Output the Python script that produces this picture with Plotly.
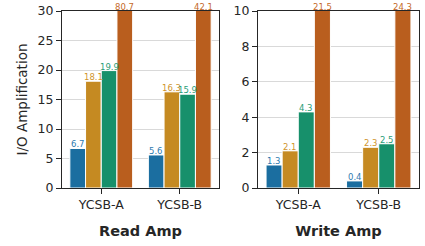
import plotly.graph_objects as go

categories = ["YCSB-A", "YCSB-B"]
read_amp = [[6.7, 5.6], [18.1, 16.3], [19.9, 15.9], [80.7, 42.1]]
write_amp = [[1.3, 0.4], [2.1, 2.3], [4.3, 2.5], [21.5, 24.3]]
series_names = ["S1", "S2", "S3", "S4"]
colors = ["#1b6ea0", "#c58a22", "#17906b", "#b95e1e"]
label_colors = ["#2f7bb0", "#d0952e", "#2a9d78", "#c56a2a"]
read_max, write_max = 30, 10

fig = go.Figure()
FONT = "DejaVu Sans"
ink = "#262626"
n = len(series_names)
w = 0.8 / n
annotations = []
for panel, (data, xa, ya, ymax) in enumerate([(read_amp, "x", "y", read_max), (write_amp, "x2", "y2", write_max)]):
    for i in range(n):
        fig.add_trace(go.Bar(x=categories, y=data[i], name=series_names[i], marker_color=colors[i],
                             marker_line_color="white", marker_line_width=1,
                             xaxis=xa, yaxis=ya, showlegend=False, hoverinfo="skip"))
        for j, v in enumerate(data[i]):
            xpos = j - 0.4 + w * (i + 0.5)
            annotations.append(dict(x=xpos, y=min(v, ymax), xref=xa, yref=ya, text=f"{v:.1f}",
                                    showarrow=False, yanchor="bottom", yshift=-3,
                                    font=dict(family=FONT, size=8.5, color=label_colors[i])))

L, R, T, B = 62, 6, 11, 58
PW = 425 - L - R
axis_common = dict(showline=True, mirror=True, linecolor=ink, linewidth=1, ticks="outside",
                   tickcolor=ink, ticklen=5, automargin=False,
                   tickfont=dict(family=FONT, size=12.5, color=ink))
fig.update_layout(
    width=425, height=246, margin=dict(l=L, r=R, t=T, b=B),
    plot_bgcolor="white", paper_bgcolor="white", barmode="group", bargap=0.2, bargroupgap=0,
    annotations=annotations,
    xaxis=dict(domain=[0, (219 - L) / PW], range=[-0.5, 1.5], anchor="y",
               title=dict(text="<b>Read Amp</b>", font=dict(family=FONT, size=14.5, color=ink), standoff=14),
               **axis_common),
    yaxis=dict(domain=[0, 1], range=[0, read_max], dtick=5, anchor="x",
               showgrid=True, gridcolor="#d9d9d9", gridwidth=1,
               title=dict(text="I/O Amplification", font=dict(family=FONT, size=13.5, color=ink), standoff=6),
               **axis_common),
    xaxis2=dict(domain=[(258 - L) / PW, 1], range=[-0.5, 1.5], anchor="y2",
                title=dict(text="<b>Write Amp</b>", font=dict(family=FONT, size=14.5, color=ink), standoff=14),
                **axis_common),
    yaxis2=dict(domain=[0, 1], range=[0, write_max], dtick=2, anchor="x2",
                showgrid=True, gridcolor="#d9d9d9", gridwidth=1, **axis_common),
)
fig.write_html("out.html", config={"displayModeBar": False},
               post_script="document.body.style.margin='0';")
